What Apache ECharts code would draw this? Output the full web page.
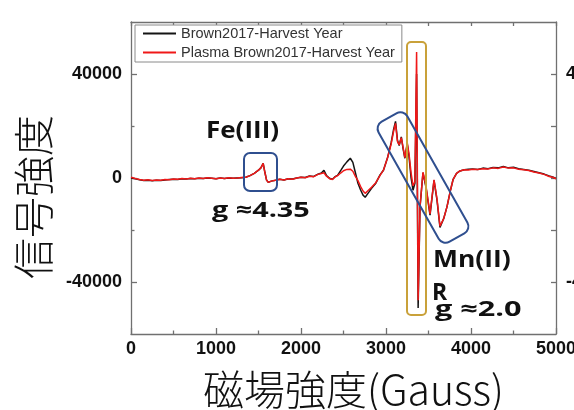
<!DOCTYPE html>
<html><head><meta charset="utf-8">
<script src="https://cdn.jsdelivr.net/npm/echarts@6/dist/echarts.min.js"></script>
<style>html,body{margin:0;padding:0;background:#fff}#c{width:574px;height:410px}</style>
</head><body><div id="c"></div>
<script>
const seriesNames = ['Brown2017-Harvest Year', 'Plasma Brown2017-Harvest Year'];
const gauss = [0,50,100,150,200,250,300,350,400,450,500,550,600,650,700,750,800,850,900,950,1000,1050,1100,1150,1200,1250,1300,1350,1400,1450,1500,1530,1555,1575,1595,1615,1650,1700,1750,1800,1850,1900,1950,2000,2050,2100,2150,2200,2240,2270,2300,2340,2370,2400,2430,2470,2500,2540,2580,2610,2640,2670,2700,2730,2755,2790,2830,2880,2930,2970,3020,3060,3090,3112,3135,3155,3180,3200,3222,3250,3270,3295,3318,3340,3360,3378,3400,3435,3470,3518,3565,3600,3635,3680,3718,3760,3790,3830,3870,3920,3970,4020,4080,4140,4200,4260,4320,4380,4440,4500,4560,4620,4680,4740,4800,4860,4920,4960,5000];
const brown = [0,-300,-700,-1000,-900,-1100,-900,-1000,-800,-600,-500,-600,-300,-400,-200,-300,-100,-200,0,-100,-300,0,-200,0,-100,0,100,300,900,1800,3000,4000,5600,2200,-800,-1700,-1200,-900,-500,-800,-300,-400,0,300,200,800,600,1500,1900,3000,900,-200,-500,500,1000,3000,4600,6200,7600,6000,2000,-2000,-4500,-6600,-7400,-5800,-4000,-2000,1200,3000,8000,13500,18800,21800,14500,12500,15800,11500,7600,13000,8500,0,-4700,-2000,40000,-50000,-11300,2000,-3500,-14300,-900,-8500,-19000,-15500,-11000,-4500,-500,1800,2700,3200,3400,3500,3300,3800,3600,4000,3900,4400,3900,4100,3600,3300,3000,2500,2000,1500,800,400,-200];
const plasma = [300,-200,-600,-900,-700,-1000,-800,-900,-600,-700,-400,-500,-200,-400,-100,-300,0,-200,100,-100,-300,0,-200,100,-100,0,200,300,900,1800,3000,4000,5600,2200,-800,-1700,-1200,-900,-500,-800,-300,-500,0,300,100,700,500,1400,1700,2000,700,-300,-600,400,900,2000,2800,3300,3400,2600,600,-1000,-3200,-5000,-5900,-4800,-3600,-1800,1000,3000,8000,13000,18000,21000,14000,12800,15500,12000,7800,13500,9500,2000,-3000,-1500,48500,-47000,-11000,2200,-3000,-13800,-700,-8000,-18500,-15500,-11000,-4500,-500,1800,2700,3200,3100,3400,3300,3600,3500,3900,3700,4200,3800,3900,3400,3200,2900,2300,1900,1400,600,300,-300];
const xLabelValues = [0,1000,2000,3000,4000,5000];
const yLabelValues = [-40000,0,40000];
const yRightLabelValues = [-40000,40000];
const yRightTickValues = [-40000,-20000,0,20000,40000];
const yMinorTickValues = [-20000,20000];
const xTitle = '磁場強度(Gauss)';
const yTitle = '信号強度';

const axisColor = '#707070';
const lineStyleAx = {color: axisColor, width: 1.3};
const tickFont = {fontFamily: 'Liberation Sans', fontWeight: 'bold', fontSize: 18, color: '#111'};

const chart = echarts.init(document.getElementById('c'), null, {renderer: 'canvas'});
const blue = '#2f4f8f';
const gold = '#c9a13a';
const annFont = 'bold 23px "Open Sans"';
chart.setOption({
  animation: false,
  backgroundColor: '#fff',
  grid: {left: 131, right: 18, top: 22, bottom: 76, containLabel: false, outerBoundsMode: 'none'},
  legend: {
    left: 135, top: 25, orient: 'vertical', padding: [1, 7, 2, 8], itemGap: 4,
    itemWidth: 33, itemHeight: 2, icon: 'rect', borderColor: '#8a8a8a', borderWidth: 1,
    backgroundColor: '#fff', textStyle: {fontFamily: 'Liberation Sans', fontSize: 14.5, color: '#333'},
    data: seriesNames
  },
  xAxis: [{
    type: 'value', min: 0, max: 5000, interval: 1000, position: 'bottom',
    axisLine: {onZero: false, lineStyle: lineStyleAx},
    axisTick: {inside: true, length: 6, lineStyle: lineStyleAx},
    minorTick: {show: true, splitNumber: 2, length: 3.5, lineStyle: lineStyleAx},
    axisLabel: Object.assign({margin: 6, customValues: xLabelValues, formatter: v => String(v)}, tickFont),
    splitLine: {show: false},
    name: xTitle, nameLocation: 'middle', nameGap: 35,
    nameTextStyle: {fontFamily: 'Noto Sans CJK JP', fontWeight: 300, fontSize: 41, color: '#111', padding: [0, 0, 0, 20]}
  }, {
    type: 'value', min: 0, max: 5000, interval: 500, position: 'top',
    axisLine: {onZero: false, lineStyle: lineStyleAx},
    axisTick: {inside: true, length: 4, lineStyle: lineStyleAx},
    axisLabel: {show: false}, splitLine: {show: false}
  }],
  yAxis: [{
    type: 'value', min: -60000, max: 60000, interval: 20000, position: 'left',
    axisLine: {show: true, onZero: false, lineStyle: lineStyleAx},
    axisTick: {show: true, inside: true, length: 6, customValues: yLabelValues, lineStyle: lineStyleAx},
    axisLabel: Object.assign({margin: 9, customValues: yLabelValues, formatter: v => String(v)}, tickFont),
    splitLine: {show: false},
    name: yTitle, nameLocation: 'middle', nameRotate: 90, nameGap: 77,
    nameTextStyle: {fontFamily: 'Noto Sans CJK JP', fontWeight: 300, fontSize: 41, color: '#111', padding: [0, 38, 0, 0]}
  }, {
    type: 'value', min: -60000, max: 60000, interval: 20000, position: 'right',
    axisLine: {show: true, onZero: false, lineStyle: lineStyleAx},
    axisTick: {show: true, inside: true, length: 5, customValues: yRightTickValues, lineStyle: lineStyleAx},
    axisLabel: Object.assign({margin: 10, customValues: yRightLabelValues, formatter: v => String(v)}, tickFont),
    splitLine: {show: false}
  }, {
    type: 'value', min: -60000, max: 60000, interval: 20000, position: 'left',
    axisLine: {show: false, onZero: false},
    axisTick: {show: true, inside: true, length: 3.5, customValues: yMinorTickValues, lineStyle: lineStyleAx},
    axisLabel: {show: false}, splitLine: {show: false}
  }],
  series: [{
    name: seriesNames[0], type: 'line', xAxisIndex: 0, yAxisIndex: 0,
    showSymbol: false, symbol: 'none', color: '#141414',
    lineStyle: {width: 1.5, color: '#141414'},
    data: gauss.map((g, i) => [g, brown[i]])
  }, {
    name: seriesNames[1], type: 'line', xAxisIndex: 0, yAxisIndex: 0,
    showSymbol: false, symbol: 'none', color: '#f01818',
    lineStyle: {width: 1.5, color: '#f01818'},
    data: gauss.map((g, i) => [g, plasma[i]])
  }],
  graphic: [
    {type: 'rect', z: 100, shape: {x: 244, y: 153, width: 33, height: 38, r: 6}, style: {fill: 'none', stroke: blue, lineWidth: 2}},
    {type: 'rect', z: 100, shape: {x: 407, y: 42, width: 19, height: 273, r: 4}, style: {fill: 'none', stroke: gold, lineWidth: 2}},
    {type: 'rect', z: 100, x: 423, y: 177.5, rotation: -1.056, shape: {x: -69, y: -16.5, width: 138, height: 33, r: 8}, style: {fill: 'none', stroke: blue, lineWidth: 2}},
    {type: 'text', z: 100, x: 206, y: 131, scaleX: 1.13, style: {text: 'Fe(III)', font: annFont, fill: '#111', verticalAlign: 'middle'}},
    {type: 'text', z: 100, x: 212, y: 211.5, scaleX: 1.37, style: {text: 'g ≈4.35', font: 'bold 21px "Open Sans"', fill: '#111', verticalAlign: 'middle'}},
    {type: 'text', z: 100, x: 433, y: 260, scaleX: 1.15, style: {text: 'Mn(II)', font: annFont, fill: '#111', verticalAlign: 'middle'}},
    {type: 'text', z: 100, x: 432, y: 293.5, style: {text: 'R', font: annFont, fill: '#111', verticalAlign: 'middle'}},
    {type: 'text', z: 100, x: 435, y: 310.5, scaleX: 1.46, style: {text: 'g ≈2.0', font: 'bold 21px "Open Sans"', fill: '#111', verticalAlign: 'middle'}}
  ]
});
</script>
</body></html>
